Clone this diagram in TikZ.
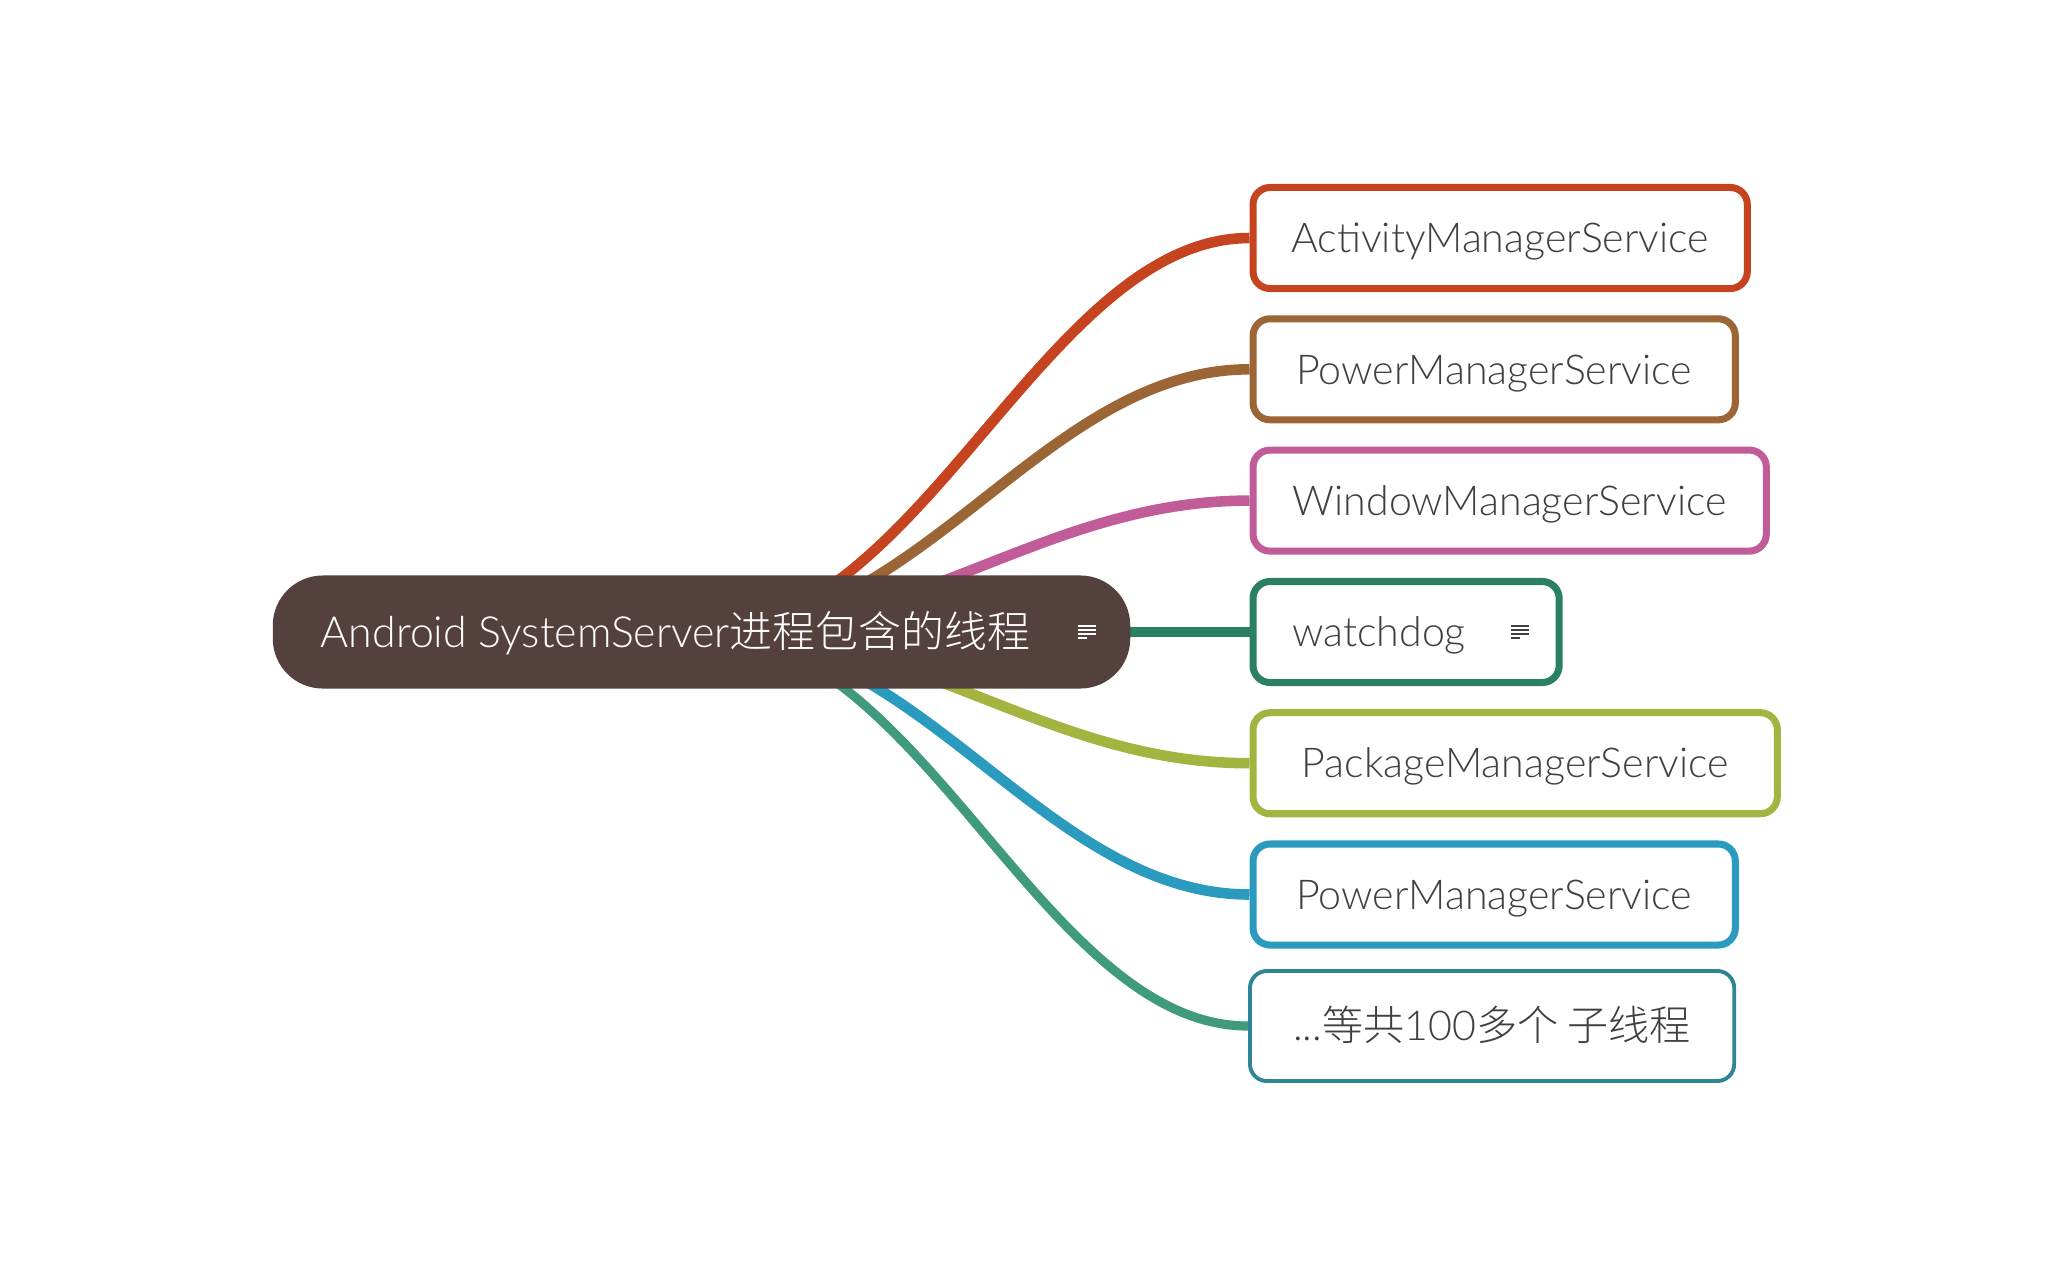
\documentclass[tikz,border=0pt]{standalone}
\usepackage{fontspec}
\setmainfont{Lato Light}
\newfontfamily\cjk{Noto Sans CJK SC}[UprightFont=* Light]
\usetikzlibrary{backgrounds}

\definecolor{rootbrown}{HTML}{54403D}
\definecolor{textgray}{HTML}{404040}
\definecolor{amscolor}{HTML}{C5441F}
\definecolor{pmscolor}{HTML}{9B6535}
\definecolor{wmscolor}{HTML}{C25C98}
\definecolor{wdcolor}{HTML}{2B7F62}
\definecolor{pkgcolor}{HTML}{A3B540}
\definecolor{pmstwocolor}{HTML}{2A9BBF}
\definecolor{morecolor}{HTML}{2E8595}
\definecolor{morelink}{HTML}{3F9A7E}

\begin{document}
\begin{tikzpicture}[x=0.01cm, y=-0.01cm]
    % Define styles
    \tikzset{
        root/.style={
            fill=rootbrown,
            text=white,
            rounded corners=0.5cm,
            minimum width=8.57cm,
            minimum height=1.13cm,
            inner sep=0pt,
            text height=8.8pt,
            text depth=0pt,
            font=\fontsize{12.2}{14}\selectfont
        },
        topic/.style={
            draw,
            fill=white,
            line width=2pt,
            rounded corners=0.17cm,
            minimum height=1.01cm,
            anchor=west,
            inner sep=0pt,
            text height=8.4pt,
            text depth=0pt,
            text=textgray,
            font=\fontsize{11.7}{14}\selectfont
        },
        branch/.style={
            line width=3pt
        },
        noteicon/.pic={
            \draw[line width=0.6pt] (-9,-6) -- (9,-6) (-9,-2) -- (9,-2)
                (-9,2) -- (9,2) (-9,6) -- (0,6);
        }
    }

    \useasboundingbox (0,0) rectangle (2048,1266);

    % Central topic
    \node[root] (root) at (701.5,632) {Android SystemServer{\cjk 进程包含的线程}\hspace{0.52cm}\null};
    \pic[white] at ([xshift=-0.44cm]root.east) {noteicon};

    % Subtopics
    \node[topic, draw=amscolor, minimum width=4.94cm] (ams) at (1249.5,238) {ActivityManagerService};
    \node[topic, draw=pmscolor, minimum width=4.82cm] (pms) at (1249.5,369.3) {PowerManagerService};
    \node[topic, draw=wmscolor, minimum width=5.13cm] (wms) at (1249.5,500.6) {WindowManagerService};
    \node[topic, draw=wdcolor, minimum width=3.06cm] (wd) at (1249.5,632) {watchdog\hspace{0.54cm}\null};
    \pic[textgray] at ([xshift=-0.43cm]wd.east) {noteicon};
    \node[topic, draw=pkgcolor, minimum width=5.24cm] (pkg) at (1249.5,763.2) {PackageManagerService};
    \node[topic, draw=pmstwocolor, minimum width=4.82cm] (pmstwo) at (1249.5,894.5) {PowerManagerService};
    \node[topic, draw=morecolor, line width=1.1pt, minimum width=4.84cm, minimum height=1.10cm] (more) at (1248,1026) {...{\cjk 等共}100{\cjk 多个 子线程}};

    % Branches
    \begin{scope}[on background layer]
        \foreach \child/\col in {ams/amscolor, pms/pmscolor, wms/wmscolor, wd/wdcolor, pkg/pkgcolor, pmstwo/pmstwocolor}
            \draw[branch, \col] (root.center) .. controls +(220,0) and +(-205,0) .. (\child.west);
        \draw[branch, morelink, line width=2.6pt] (root.center) .. controls +(220,0) and +(-205,0) .. (more.west);
    \end{scope}
\end{tikzpicture}
\end{document}
